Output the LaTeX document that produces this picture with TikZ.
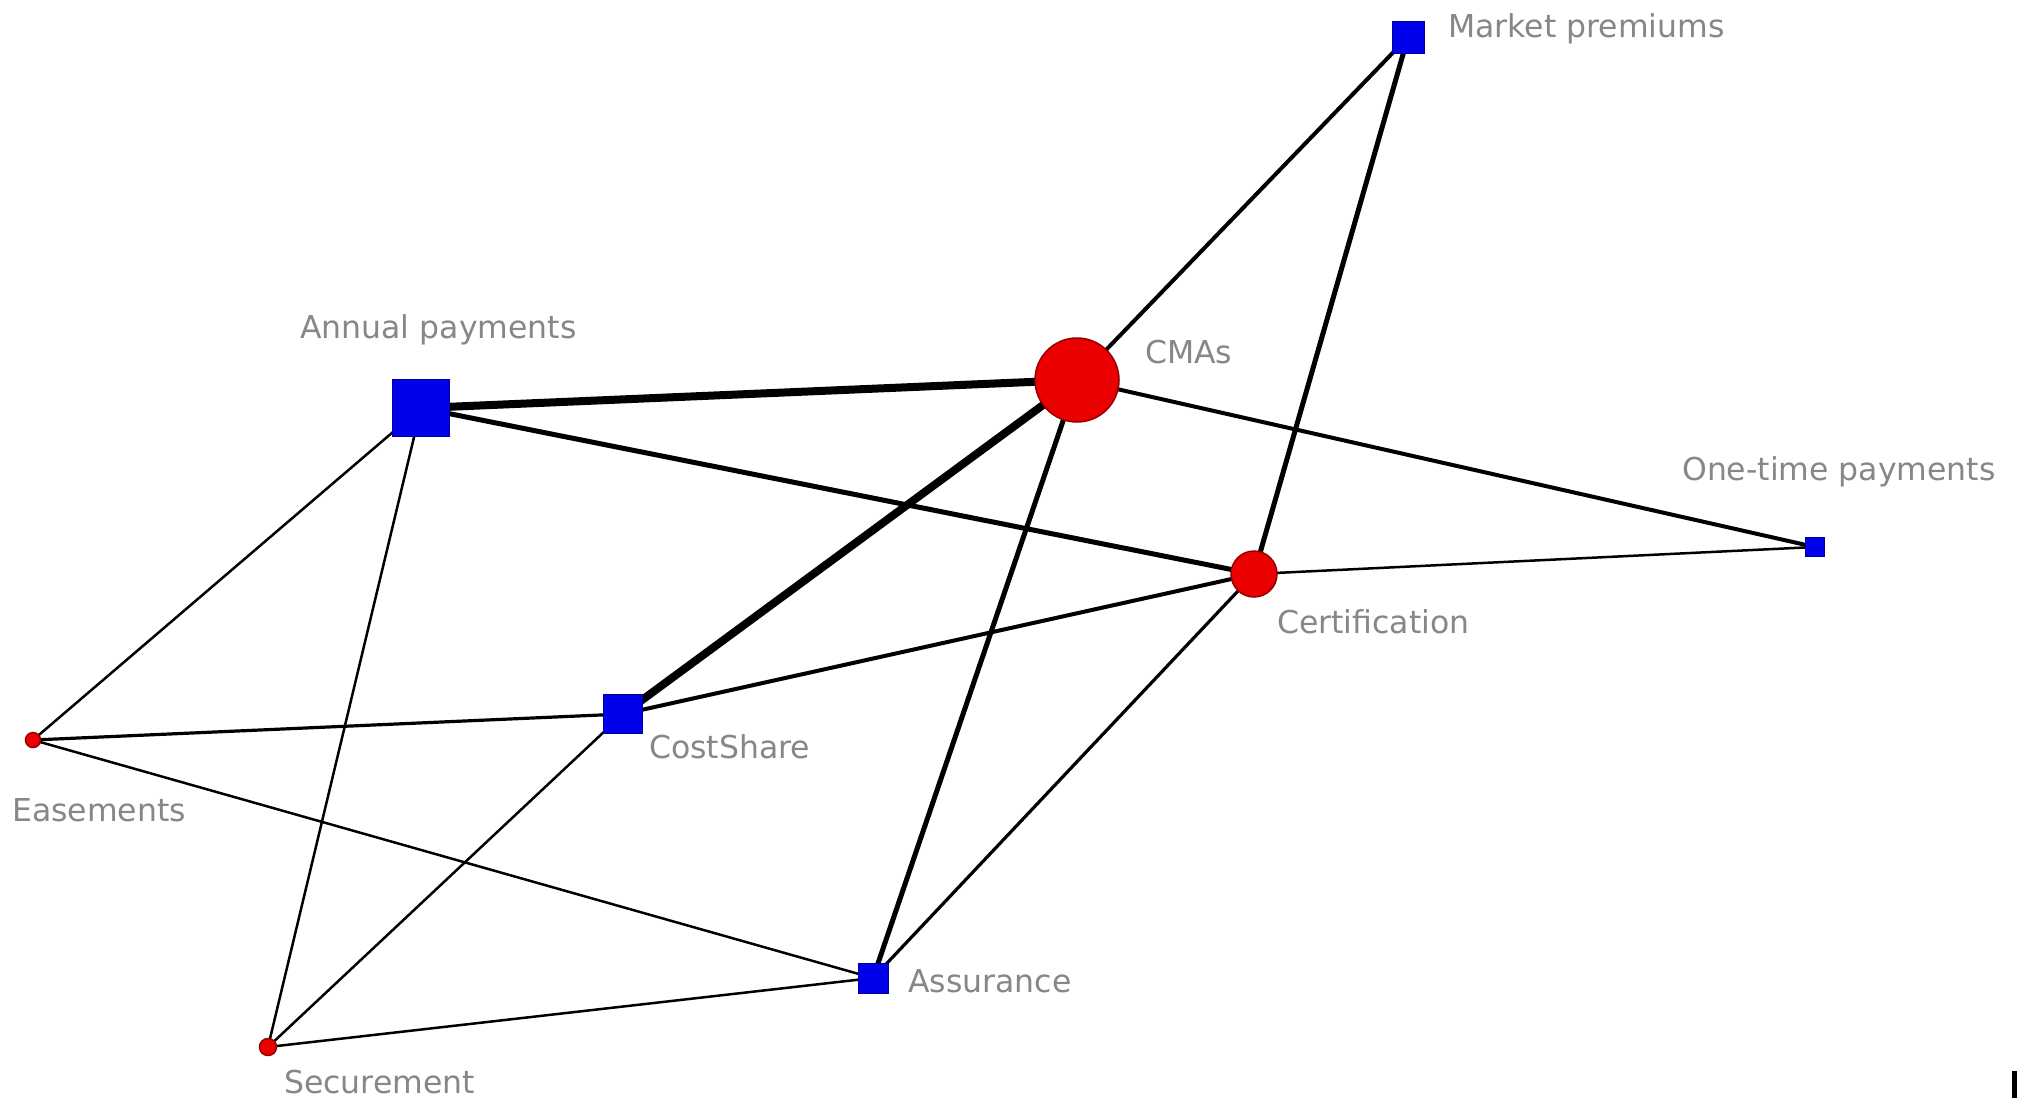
\documentclass[tikz,border=0pt]{standalone}
\usepackage{fontspec}
\setmainfont{DejaVu Sans}
\usetikzlibrary{backgrounds}
\definecolor{nodered}{RGB}{235,0,0}
\definecolor{nodeblue}{RGB}{0,0,235}
\definecolor{labelgray}{RGB}{135,135,135}
\tikzset{
  rednode/.style={circle, fill=nodered, draw={rgb,255:red,150;green,0;blue,0}, line width=1.5pt, inner sep=0pt},
  bluenode/.style={rectangle, fill=nodeblue, draw={rgb,255:red,0;green,0;blue,150}, line width=1pt, inner sep=0pt},
  lbl/.style={anchor=base west, inner sep=0pt, text=labelgray, font=\fontsize{31.5}{36}\selectfont},
  edge/.style={draw=black, line cap=round},
  w1/.style={edge, line width=2.5pt},
  w2/.style={edge, line width=3.2pt},
  w3/.style={edge, line width=4pt},
  w4/.style={edge, line width=5pt},
  w5/.style={edge, line width=8pt}
}
\begin{document}
\begin{tikzpicture}[x=1pt, y=-1pt]
\useasboundingbox (0,0) rectangle (2017,1098);
% nodes
\node[bluenode, minimum size=32pt] (mp) at (1408,37) {};
\node[bluenode, minimum size=57pt] (ap) at (421,408) {};
\node[rednode, minimum size=84pt] (cma) at (1077,380) {};
\node[bluenode, minimum size=19pt] (otp) at (1815,547) {};
\node[rednode, minimum size=46pt] (cert) at (1254,574) {};
\node[bluenode, minimum size=39pt] (cs) at (623,714) {};
\node[rednode, minimum size=15pt] (eas) at (33,740) {};
\node[bluenode, minimum size=30pt] (asr) at (873,978) {};
\node[rednode, minimum size=17pt] (sec) at (268,1047) {};
% labels
\node[lbl] (mpl) at (1448,37) {Market premiums};
\node[lbl] (apl) at (300,338) {Annual payments};
\node[lbl] (cmal) at (1145,363) {CMAs};
\node[lbl] (otpl) at (1682,480) {One-time payments};
\node[lbl] (certl) at (1277,633) {Certification};
\node[lbl] (csl) at (649,758) {CostShare};
\node[lbl] (easl) at (12,821) {Easements};
\node[lbl] (asrl) at (908,992) {Assurance};
\node[lbl] (secl) at (284,1093) {Securement};
% edges
\begin{pgfonlayer}{background}
\fill[white] (0,0) rectangle (2017,1098);
\draw[w3] (cma.center) -- (mp.center);
\draw[w4] (mp.center) -- (cert.center);
\draw[w5] (ap.center) -- (cma.center);
\draw[w4] (ap.center) -- (cert.center);
\draw[w3] (cma.center) -- (otp.center);
\draw[w5] (cma.center) -- (cs.center);
\draw[w4] (cma.center) -- (asr.center);
\draw[w1] (cert.center) -- (otp.center);
\draw[w3] (cert.center) -- (cs.center);
\draw[w2] (cert.center) -- (asr.center);
\draw[w1] (ap.center) -- (eas.center);
\draw[w1] (ap.center) -- (sec.center);
\draw[w2] (eas.center) -- (cs.center);
\draw[w1] (eas.center) -- (asr.center);
\draw[w1] (cs.center) -- (sec.center);
\draw[w1] (sec.center) -- (asr.center);
\end{pgfonlayer}
% cropped mark at bottom right
\fill[black] (2012,1071) rectangle (2017,1098);
\end{tikzpicture}
\end{document}
